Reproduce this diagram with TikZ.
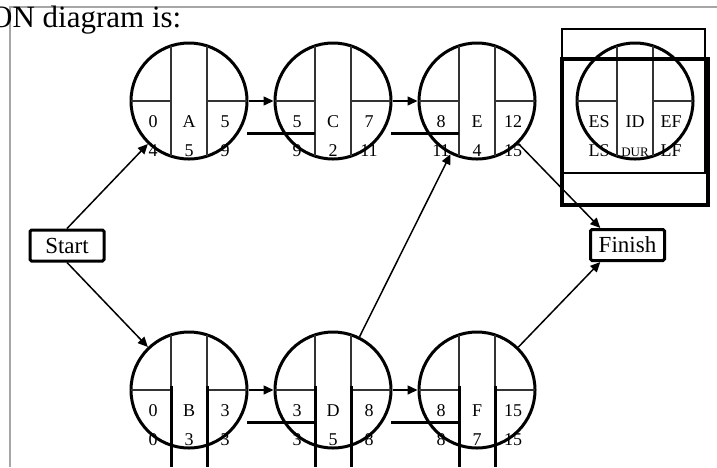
\documentclass[tikz,border=0pt]{standalone}
\usepackage{fontspec}
\setmainfont{Liberation Serif}
\usetikzlibrary{arrows.meta}

\begin{document}
\begin{tikzpicture}[x=1pt,y=-1pt,
  act/.style={circle,draw,line width=3pt,minimum size=116pt,inner sep=0pt},
  split/.style={line width=1.2pt,black!80},
  bar/.style={line width=3pt},
  lbl/.style={anchor=base,inner sep=0pt,font=\fontsize{18}{18}\selectfont},
  arr/.style={line width=1.5pt,-{Triangle[length=10pt,width=9pt]}},
  endbox/.style={draw,line width=3pt,rounded corners=1.5pt,minimum width=74pt,
    minimum height=31pt,inner sep=0pt,font=\fontsize{23}{23}\selectfont}]
  \useasboundingbox (0,0) rectangle (717,467);
  \newcommand\drawact[9]{%
    \node[act] (#1) at (#2,#3) {};
    \draw[split] (#1.center) ++(-18,-55) -- ++(0,110);
    \draw[split] (#1.center) ++(18,-55) -- ++(0,110);
    \draw[split] (#1.center) ++(-58,0) -- ++(40,0);
    \draw[split] (#1.center) ++(18,0) -- ++(40,0);
    \node[lbl] (#1-es) at (#2-36,#3+26) {#4};
    \node[lbl] (#1-id) at (#2,#3+26) {#5};
    \node[lbl] (#1-ef) at (#2+36,#3+26) {#6};
    \node[lbl] (#1-ls) at (#2-36,#3+55) {#7};
    \node[lbl] (#1-dur) at (#2,#3+55) {#8};
    \node[lbl] (#1-lf) at (#2+36,#3+55) {#9};}

% frame and heading
  \draw[gray!70,line width=1.5pt] (10,467) -- (10,7) -- (717,7);
  \node[anchor=base west,inner sep=0pt,font=\fontsize{31}{31}\selectfont]
    (title) at (-10,27) {ON diagram is:};

% activities
  \drawact{A}{189}{101}{0}{A}{5}{4}{5}{9}
  \drawact{C}{333}{101}{5}{C}{7}{9}{2}{11}
  \drawact{E}{477}{101}{8}{E}{12}{11}{4}{15}
  \drawact{B}{189}{390}{0}{B}{3}{0}{3}{3}
  \drawact{D}{333}{390}{3}{D}{8}{3}{5}{8}
  \drawact{F}{477}{390}{8}{F}{15}{8}{7}{15}
  \foreach \n in {B,D,F}{
    \draw[bar] (\n.center) ++(-18,-4) -- ++(0,81);
    \draw[bar] (\n.center) ++(18,-4) -- ++(0,81);
  }
  \foreach \a/\b in {A/C,C/E,B/D,D/F}{
    \draw[bar] (\a.center) ++(58,32) -- ++(68,0);
    \draw[arr] (\a) -- (\b);
  }

% key
  \drawact{key}{635}{101}{ES}{ID}{EF}{LS}{\fontsize{13}{13}\selectfont DUR}{LF}
  \draw[line width=2.5pt] (562,29) rectangle (705,173);
  \draw[line width=4pt] (562,59) rectangle (708,205);

% start and finish
  \node[endbox] (start) at (67,245.5) {Start};
  \node[endbox] (finish) at (627.5,245) {Finish};
  \draw[arr] (start.north) -- (A);
  \draw[arr] (start.south) -- (B);
  \draw[arr] (D) -- (E);
  \draw[arr] (E) -- (finish.148);
  \draw[arr] (F) -- (finish.212);
\end{tikzpicture}
\end{document}
